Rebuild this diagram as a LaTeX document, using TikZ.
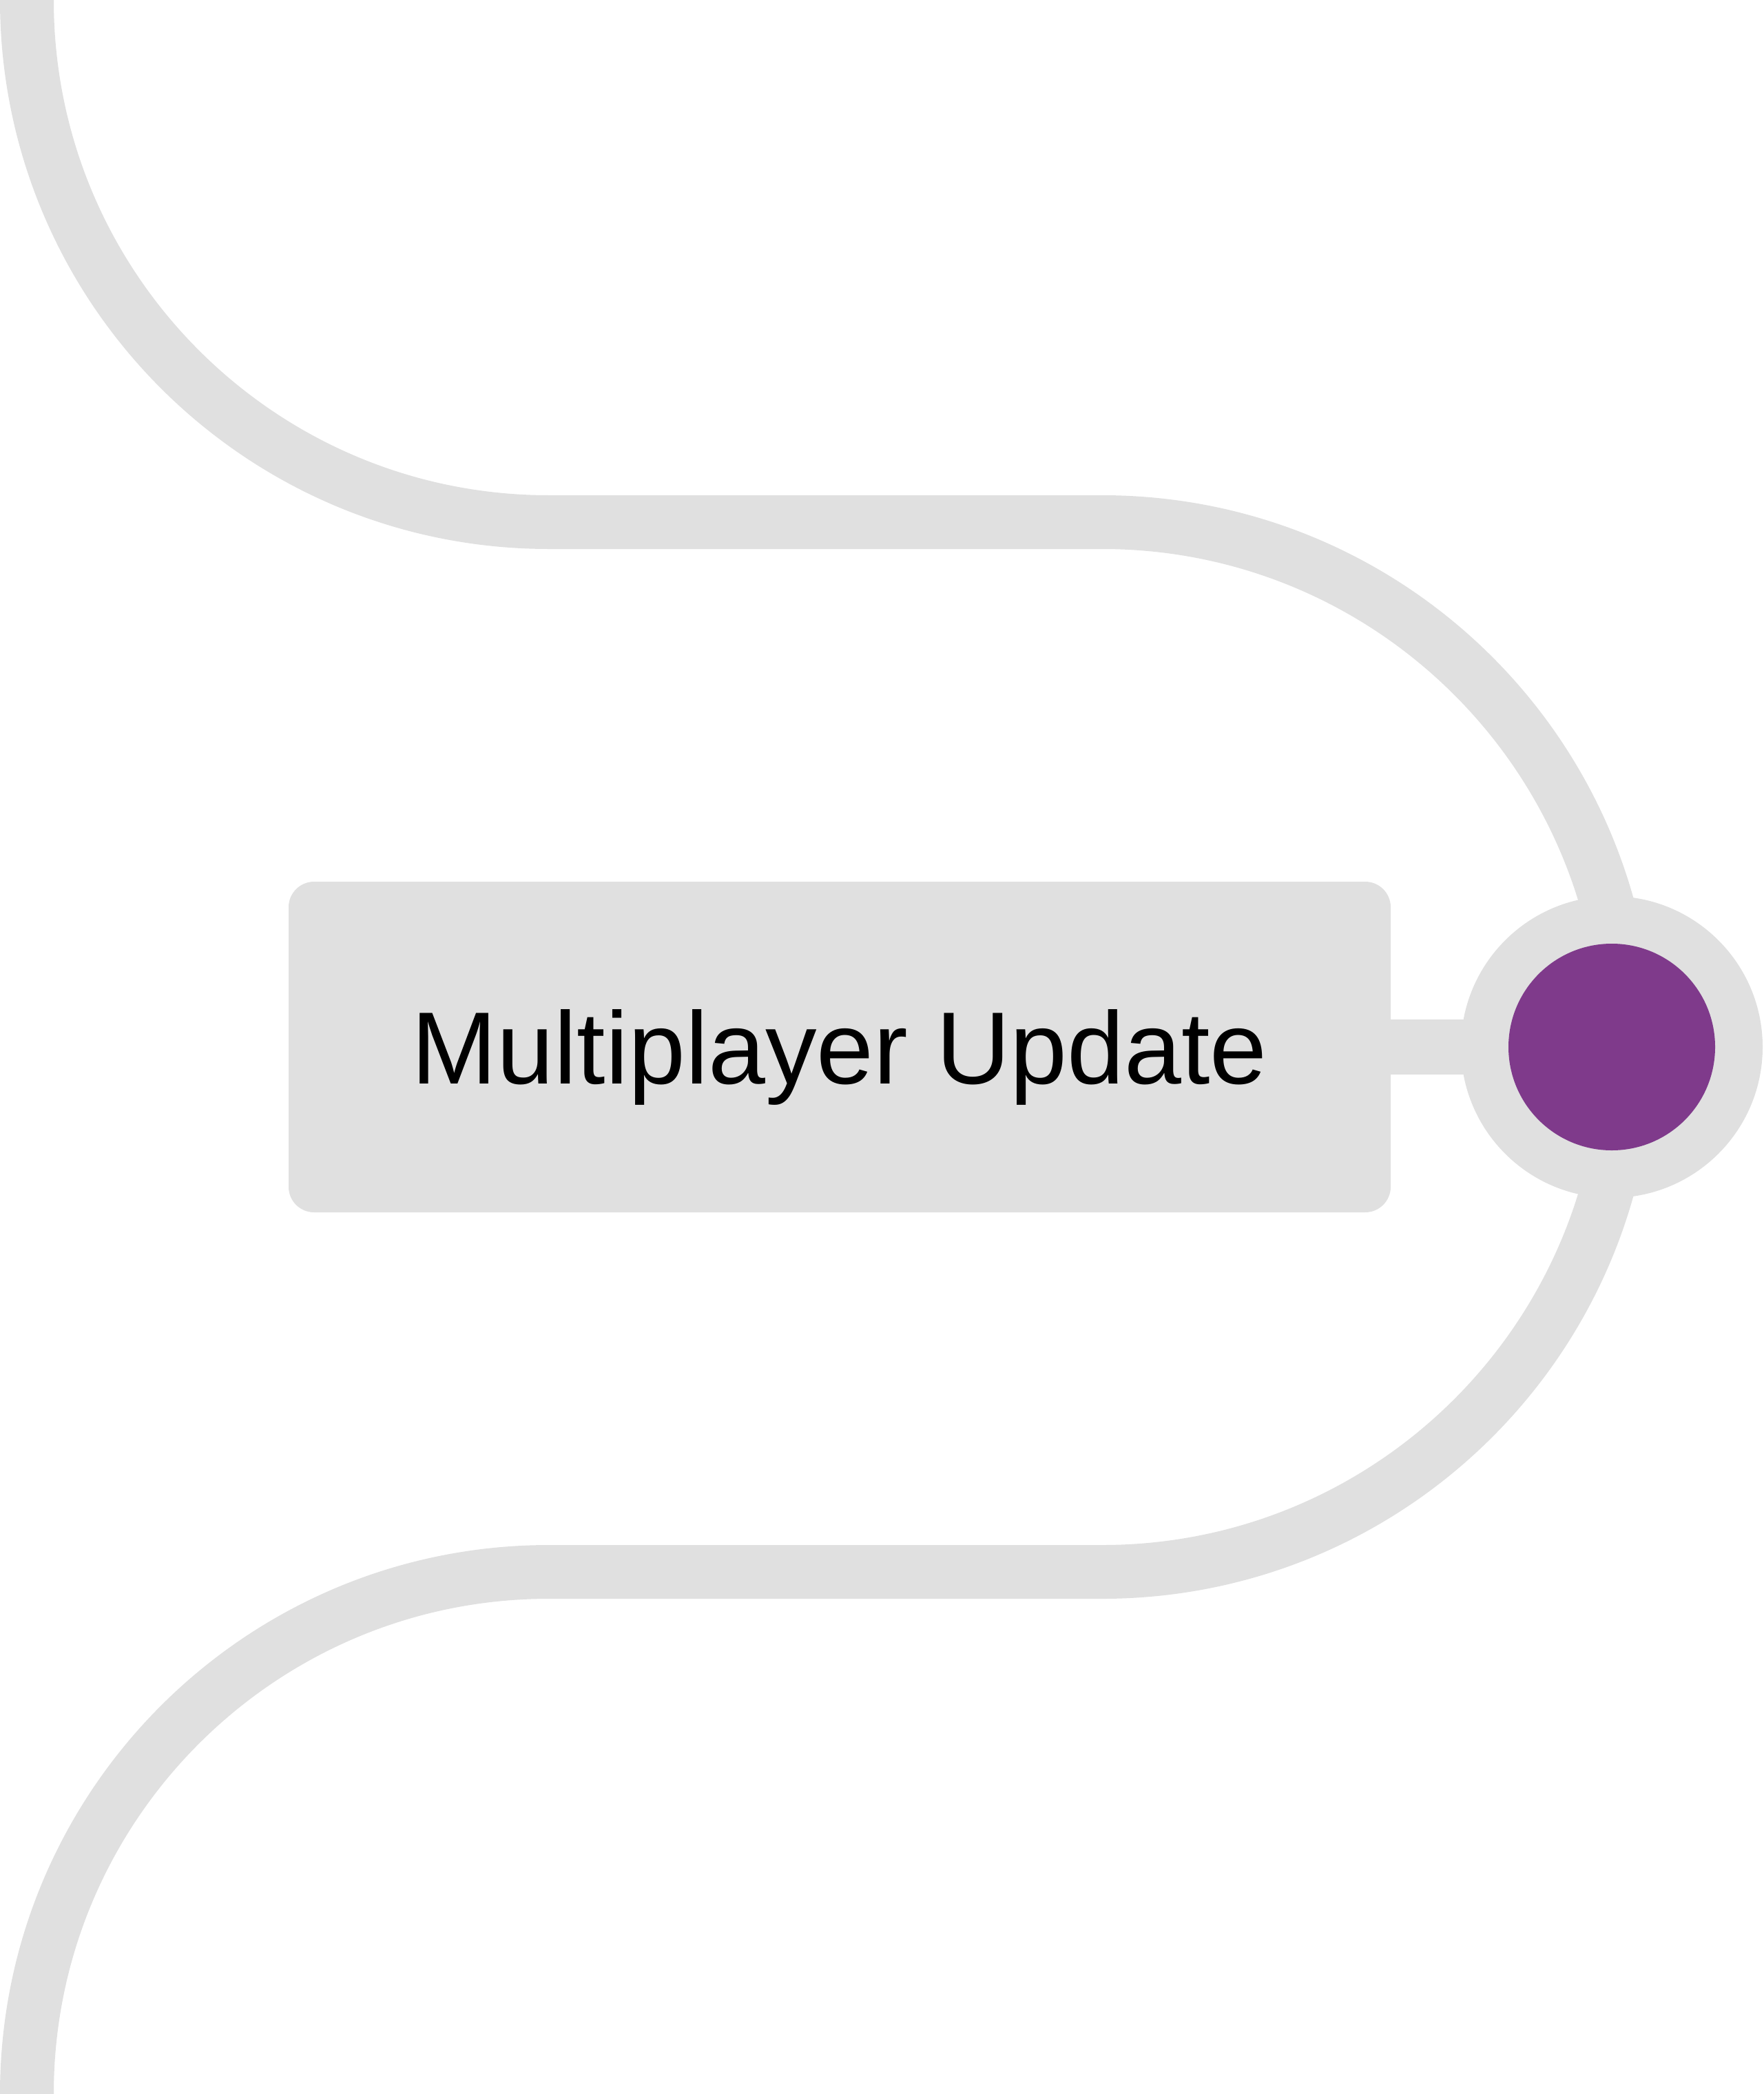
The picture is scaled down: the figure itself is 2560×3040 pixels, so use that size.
\documentclass[tikz,border=0pt]{standalone}
\usepackage{fontspec}
\setmainfont{Liberation Sans}
\usetikzlibrary{backgrounds}
\definecolor{trackgray}{HTML}{E0E0E0}
\definecolor{dotpurple}{HTML}{7F3A8B}
\tikzset{
  track/.style={draw=trackgray, line width=78pt, line cap=butt},
  link/.style={draw=trackgray, line width=80pt},
  labelbox/.style={rectangle, rounded corners=37pt, fill=trackgray, minimum width=1600pt, minimum height=480pt, inner sep=0pt, text height=107pt, text depth=0pt, font=\fontsize{149}{170}\selectfont, text=black},
  ring/.style={circle, fill=trackgray, minimum size=438pt, inner sep=0pt},
  dotstyle/.style={circle, fill=dotpurple, minimum size=300pt, inner sep=0pt}
}
\begin{document}
\begin{tikzpicture}[x=1pt,y=-1pt]
\useasboundingbox (0,0) rectangle (2560,3040);
\node[labelbox] (box) at (1219,1520) {Multiplayer Update};
\node[ring] (ring) at (2340,1520) {};
\node[dotstyle] (dot) at (ring.center) {};
\begin{pgfonlayer}{background}
\draw[track] (39,0) arc[start angle=180, end angle=90, radius=758] -- (1600,758)
  arc[start angle=-90, end angle=90, radius=762] -- (797,2282)
  arc[start angle=-90, end angle=-180, radius=758];
\draw[link] (box.east) -- (ring.center);
\end{pgfonlayer}
\end{tikzpicture}
\end{document}
